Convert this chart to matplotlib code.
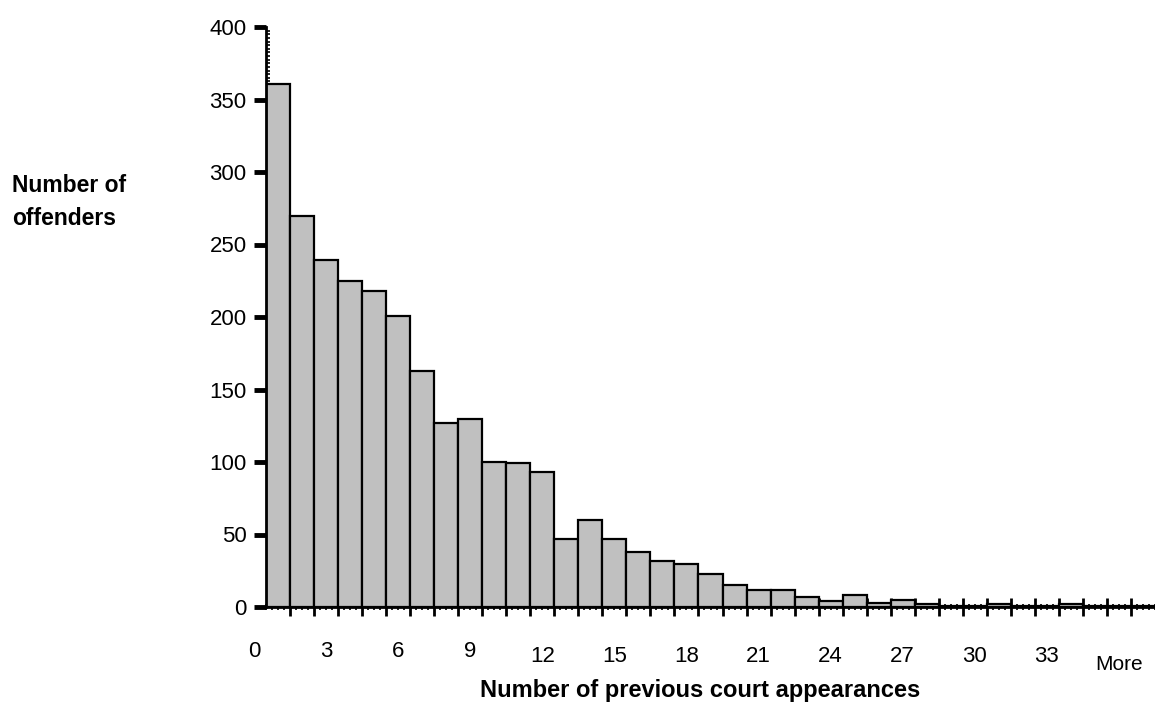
import matplotlib
matplotlib.use("Agg")
import matplotlib.pyplot as plt
from matplotlib.ticker import MultipleLocator

# offenders per number of previous court appearances (last bin = "More")
counts = [361, 270, 239, 225, 218, 201, 163, 127, 130, 100, 99, 93,
          47, 60, 47, 38, 32, 30, 23, 15, 12, 12, 7, 4,
          8, 3, 5, 2, 1, 1, 2, 1, 1, 2, 1, 1, 1]
tick_labels = ['0', '3', '6', '9', '12', '15', '18', '21', '24', '27', '30', '33', 'More']
y_ticks = [0, 50, 100, 150, 200, 250, 300, 350, 400]

plt.rcParams['font.family'] = ['Liberation Sans', 'DejaVu Sans']

W, H = 1155, 706
fig = plt.figure(figsize=(W / 100, H / 100), dpi=100)
ax = fig.add_axes([266 / W, (H - 607) / H, (W - 266) / W, (607 - 27) / H])

ax.bar(range(len(counts)), counts, width=1, align='edge',
       color='#c0c0c0', edgecolor='black', linewidth=1.6, zorder=2)

ax.set_xlim(0, len(counts))
ax.set_ylim(0, 400)

for side in ['top', 'right']:
    ax.spines[side].set_visible(False)
for side in ['left', 'bottom']:
    ax.spines[side].set_linewidth(2)
    ax.spines[side].set_zorder(3)

# y axis: heavy marks + dense little dashes
ax.set_yticks(y_ticks)
ax.set_yticklabels([str(v) for v in y_ticks], fontsize=16)
ax.yaxis.set_minor_locator(MultipleLocator(2.5))
ax.tick_params(axis='y', which='major', direction='out', length=9, width=3.5, pad=5)
ax.tick_params(axis='y', which='minor', direction='in', length=3, width=1.2)

# x axis: marks at every bin edge, labels drawn by hand below
ax.set_xticks(range(1, len(counts)))
ax.set_xticklabels([])
ax.xaxis.set_minor_locator(MultipleLocator(0.25))
ax.tick_params(axis='x', which='major', direction='inout', length=13, width=2)
ax.tick_params(axis='x', which='minor', direction='inout', length=5, width=1.2)

# category labels sit one bin to the left, like the original
label_x = [3 * i - 0.5 for i in range(12)] + [35.5]
label_y = [-0.076] * 4 + [-0.085] * 8 + [-0.099]
for x, y, t in zip(label_x, label_y, tick_labels):
    ax.text(x, y, t, transform=ax.get_xaxis_transform(), ha='center', va='center',
            fontsize=16 if t != 'More' else 15, clip_on=False)

fig.text(700 / W, 1 - 690 / H, 'Number of previous court appearances',
         ha='center', va='center', fontsize=17, fontweight='bold')
fig.text(12 / W, 1 - 202 / H, 'Number of\noffenders', ha='left', va='center',
         fontsize=16.5, fontweight='bold', linespacing=1.5)

fig.savefig('out.png', dpi=100)
